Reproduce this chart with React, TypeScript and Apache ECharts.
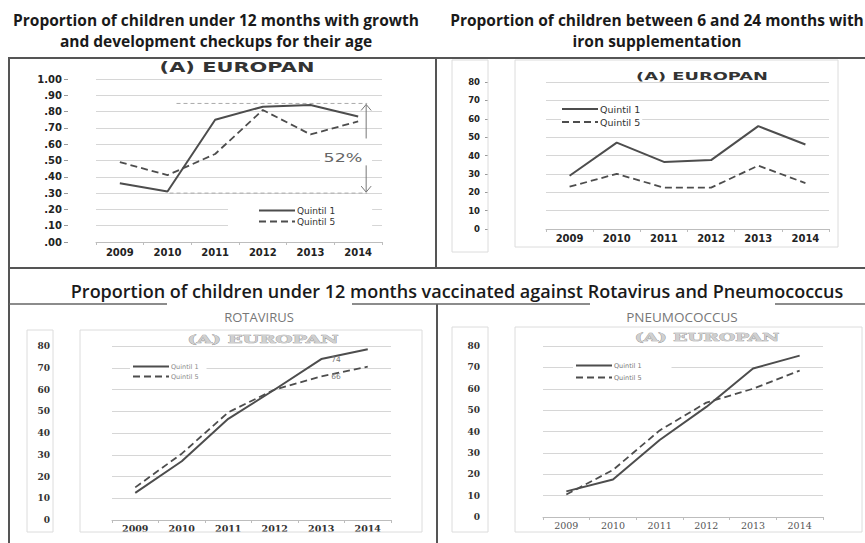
import React, { useEffect, useRef } from 'react';
import * as echarts from 'echarts';

const years = ['2009', '2010', '2011', '2012', '2013', '2014'];
const seriesNames = ['Quintil 1', 'Quintil 5'];
// growth & development checkups (proportion)
const checkupQ1 = [0.36, 0.31, 0.75, 0.83, 0.84, 0.77];
const checkupQ5 = [0.49, 0.41, 0.54, 0.81, 0.66, 0.74];
// iron supplementation (%)
const ironQ1 = [29, 47, 36.5, 37.5, 56, 46];
const ironQ5 = [23, 30, 22.5, 22.5, 34.5, 25];
// rotavirus (%)
const rotaQ1 = [12.5, 27, 46.5, 60, 74, 78.5];
const rotaQ5 = [15, 30.5, 49.5, 60, 66, 70.5];
// pneumococcus (%)
const pneuQ1 = [12, 17.5, 36, 51.5, 69.5, 75.5];
const pneuQ5 = [10.5, 22, 40.5, 53.5, 60, 68.5];
const labelledYear = '2013';
const gapTop = 0.85;
const gapBottom = 0.30;
const gapLabel = '52%';
const panelTitle = '(A) EUROPAN';
const titleLeft = ['Proportion of children under 12 months with growth', 'and development checkups for their age'];
const titleRight = ['Proportion of children between 6 and 24 months with', 'iron supplementation'];
const titleBottom = 'Proportion of children under 12 months vaccinated against Rotavirus and Pneumococcus';
const subRota = 'ROTAVIRUS';
const subPneu = 'PNEUMOCOCCUS';

const LINE = '#4d4d4d';
const DASH = [7, 4];

function makeSeries(idx: number, q1: any[], q5: any[], withSymbols = false) {
  const sym = withSymbols ? { symbol: 'circle', symbolSize: 0, showSymbol: true } : { symbol: 'none' };
  return [
    { name: seriesNames[0], type: 'line', xAxisIndex: idx, yAxisIndex: idx, data: q1, ...sym, lineStyle: { color: LINE, width: 2 }, itemStyle: { color: LINE }, z: 3 },
    { name: seriesNames[1], type: 'line', xAxisIndex: idx, yAxisIndex: idx, data: q5, ...sym, lineStyle: { color: LINE, width: 1.8, type: DASH }, itemStyle: { color: LINE }, z: 3 },
  ];
}

function withLabel(arr: number[]) {
  return arr.map((v, i) => years[i] === labelledYear
    ? { value: v, label: { show: true, position: 'right', distance: 10, fontSize: 7.5, color: '#777', fontFamily: 'DejaVu Sans' } }
    : v);
}

function xAxis(idx: number, margin: number, font: any) {
  return {
    type: 'category', gridIndex: idx, data: years, boundaryGap: true,
    axisLine: { show: true, lineStyle: { color: '#bdbdbd', width: 1 } },
    axisTick: { show: true, length: 3, lineStyle: { color: '#bdbdbd' } },
    axisLabel: { margin, ...font },
  };
}

function yAxis(idx: number, max: number, interval: number, opts: any) {
  return {
    type: 'value', gridIndex: idx, min: 0, max, interval,
    axisLine: { show: false },
    splitLine: { show: true, lineStyle: { color: '#d6d6d6', width: 1 } },
    ...opts,
  };
}

function legend(left: number, top: number, padding: number[], fontSize: number, color: string, itemGap: number) {
  return {
    data: seriesNames, orient: 'vertical', left, top, padding, itemGap,
    itemWidth: 36, itemHeight: 8, backgroundColor: '#fff', selectedMode: false,
    itemStyle: { opacity: 0 },
    textStyle: { fontSize, color, fontFamily: 'DejaVu Sans', padding: [0, 0, 0, -3] },
  };
}

export default function App() {
  const ref = useRef<HTMLDivElement>(null);
  useEffect(() => {
    if (!ref.current) return;
    const chart = echarts.init(ref.current, null, { renderer: 'svg' });
    const sansBold = { fontFamily: 'DejaVu Sans', fontWeight: 'bold', color: '#222' };
    const serifBold = { fontFamily: 'DejaVu Serif', fontWeight: 'bold', color: '#333' };
    const option: any = {
      animation: false,
      backgroundColor: '#fff',
      grid: [
        { left: 96, top: 79, width: 286, height: 163 },
        { left: 546, top: 82, width: 283, height: 147 },
        { left: 112, top: 346, width: 279, height: 174 },
        { left: 543, top: 346, width: 280, height: 171 },
      ],
      xAxis: [
        xAxis(0, 5, { ...sansBold, fontSize: 10 }),
        xAxis(1, 4, { ...sansBold, fontSize: 10 }),
        xAxis(2, 3, { ...serifBold, fontSize: 9.5 }),
        xAxis(3, 3, { fontFamily: 'DejaVu Serif', color: '#555', fontSize: 9.5 }),
      ],
      yAxis: [
        yAxis(0, 1, 0.1, {
          offset: 28, axisTick: { show: true, length: 4, lineStyle: { color: '#999' } },
          axisLabel: { margin: 6, ...sansBold, fontSize: 10, formatter: (v: number) => v.toFixed(2).replace(/^0/, '') },
        }),
        yAxis(1, 80, 10, {
          offset: 58, axisTick: { show: true, length: 3, lineStyle: { color: '#999' } },
          axisLabel: { margin: 8, ...sansBold, fontSize: 8.5 },
        }),
        yAxis(2, 80, 10, { axisTick: { show: false }, axisLabel: { margin: 62, ...serifBold, fontSize: 9 } }),
        yAxis(3, 80, 10, { axisTick: { show: false }, axisLabel: { margin: 63, ...serifBold, fontSize: 9 } }),
      ],
      legend: [
        legend(228, 200, [6, 37, 4, 30], 9, '#333', 2),
        legend(561, 103, [1, 2, 1, 0], 9.5, '#333', 3),
        legend(130, 362, [1, 8, 1, 2], 6.5, '#888', 3),
        legend(573, 361, [1, 30, 1, 2], 6.5, '#777', 5),
      ],
      series: [
        ...makeSeries(0, checkupQ1, checkupQ5),
        ...makeSeries(1, ironQ1, ironQ5),
        ...makeSeries(2, withLabel(rotaQ1), withLabel(rotaQ5), true),
        ...makeSeries(3, pneuQ1, pneuQ5),
      ],
    };
    chart.setOption(option);

    const P = (grid: number, xi: number, yv: number) => chart.convertToPixel({ gridIndex: grid } as any, [xi, yv]) as number[];
    const text = (x: number, y: number, t: string, size: number, weight: string, family: string, fill: string, scaleX = 1, z = 5, extra: any = {}) => ({
      type: 'text', x, y, scaleX, z,
      style: { text: t, fontSize: size, fontWeight: weight, fontFamily: family, fill, textAlign: 'center', textVerticalAlign: 'middle', align: 'center', verticalAlign: 'middle', ...extra },
    });
    const line = (x1: number, y1: number, x2: number, y2: number, stroke: string, lineWidth: number, dash?: number[], z = 5) => ({
      type: 'line', z, shape: { x1, y1, x2, y2 }, style: { stroke, lineWidth, lineDash: dash || null },
    });
    const rect = (x: number, y: number, w: number, h: number, stroke: string, fill = 'none', z = 1) => ({
      type: 'rect', z, shape: { x, y, width: w, height: h }, style: { stroke, fill, lineWidth: 1 },
    });

    const upper = P(0, 1, gapTop);
    const upperEnd = P(0, 5, gapTop);
    const lower = P(0, 1, gapBottom);
    const arrowX = upperEnd[0] + 8;
    const yTop = upper[1];
    const yBot = lower[1];
    const midA = P(0, 5, 0.635)[1];
    const midB = P(0, 5, 0.47)[1];
    const labelY = P(0, 5, 0.515)[1];
    const border = '#555';
    const faint = '#dcdcdc';
    const outline = { stroke: '#999', lineWidth: 0.6 };

    const elements: any[] = [
      // titles
      text(216, 20, titleLeft[0], 15.5, 'bold', 'Open Sans', '#1a1a1a'),
      text(216, 41, titleLeft[1], 15.5, 'bold', 'Open Sans', '#1a1a1a'),
      text(657, 20, titleRight[0], 15.5, 'bold', 'Open Sans', '#1a1a1a'),
      text(657, 41, titleRight[1], 15.5, 'bold', 'Open Sans', '#1a1a1a'),
      text(457, 291, titleBottom, 18, '600', 'Open Sans', '#1a1a1a'),
      text(259, 317, subRota, 13, 'normal', 'Open Sans', '#777'),
      text(682, 317, subPneu, 13.5, 'normal', 'Open Sans', '#777'),
      // panel borders
      line(8, 58, 865, 58, border, 2),
      line(9, 58, 9, 543, border, 2),
      line(436, 58, 436, 268, border, 2),
      line(9, 268, 865, 268, border, 2),
      line(437, 304, 437, 543, border, 2),
      line(9, 304, 167, 304, '#666', 1.5),
      line(352, 304, 590, 304, '#666', 1.5),
      line(775, 304, 865, 304, '#666', 1.5),
      // faint inner chart boxes
      rect(452, 60, 36, 192, faint),
      rect(515, 60, 323, 187, faint),
      rect(27, 330, 26, 202, faint),
      rect(80, 330, 342, 202, faint),
      rect(452, 327, 36, 205, faint),
      rect(515, 327, 347, 205, faint),
      // panel headings
      text(237, 67, panelTitle, 13.5, 'bold', 'DejaVu Sans', '#333', 1.55),
      text(702, 76, panelTitle, 11, 'bold', 'DejaVu Sans', '#333', 1.62),
      text(263, 339, panelTitle, 10.5, 'bold', 'DejaVu Serif', '#d0d0d0', 1.85, 5, outline),
      text(707, 338, panelTitle, 10.5, 'bold', 'DejaVu Serif', '#d0d0d0', 1.77, 5, outline),
      // gap annotation
      line(upper[0] + 9, yTop, arrowX + 1, yTop, '#aaa', 1, [4, 3]),
      line(lower[0] + 2, yBot, arrowX + 1, yBot, '#aaa', 1, [4, 3]),
      rect(320, labelY - 9, 52, 18, 'none', '#fff', 6),
      line(arrowX, yTop + 1, arrowX, midA, '#777', 1, undefined, 7),
      line(arrowX, midB, arrowX, yBot - 1, '#777', 1, undefined, 7),
      { type: 'polyline', z: 7, shape: { points: [[arrowX - 5, yTop + 7], [arrowX, yTop + 1], [arrowX + 5, yTop + 7]] }, style: { stroke: '#777', fill: 'none', lineWidth: 1 } },
      { type: 'polyline', z: 7, shape: { points: [[arrowX - 5, yBot - 7], [arrowX, yBot - 1], [arrowX + 5, yBot - 7]] }, style: { stroke: '#777', fill: 'none', lineWidth: 1 } },
      text(343, labelY, gapLabel, 12.5, 'normal', 'DejaVu Sans', '#666', 1.4, 8),
    ];
    chart.setOption({ graphic: { elements } });
    return () => chart.dispose();
  }, []);
  return <div ref={ref} style={{ position: 'absolute', left: 0, top: 0, width: 865, height: 543, background: '#fff' }} />;
}
